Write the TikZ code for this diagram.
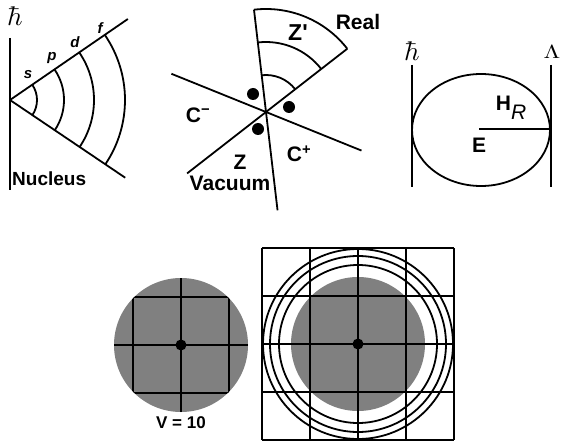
\documentclass[tikz,border=0pt]{standalone}
\usepackage{fontspec}
\setsansfont{Liberation Sans}
\usetikzlibrary{positioning,calc}
\definecolor{dgLine}{HTML}{000000}
\definecolor{dgGreyFill}{HTML}{808080}
\tikzset{
  ln/.style={dgLine, line width=1.8pt},
  lbl/.style={font=\sffamily\bfseries\fontsize{21}{21}\selectfont, inner sep=0pt},
  orb/.style={font=\sffamily\bfseries\itshape\fontsize{15}{15}\selectfont, inner sep=0pt},
  sym/.style={inner sep=0pt},
}
\newcommand{\bigsym}[3]{\scalebox{#1}[#2]{$#3$}}

\begin{document}
\begin{tikzpicture}[x=1pt, y=1pt]
\useasboundingbox (0,0) rectangle (561,442);

% --- SHELLS (top left) ---
\coordinate (apex) at (10,342);
\draw[ln] (10,404) -- (10,252);
\draw[ln] (apex) -- ++(34.5:143) coordinate (rayU);
\draw[ln] (apex) -- ++(-34:139) coordinate (rayL);
\foreach \r in {27,54,84,115} {
  \draw[ln] ($(apex)+(-34:\r)$) arc[start angle=-34, end angle=34.5, radius=\r];
}
\node[sym] (hbarL) at (15,426) {\bigsym{2.7}{2.7}{\hbar}};
\node[orb] (sLbl) at (28,367) {s};
\node[orb] (pLbl) at (52,384) {p};
\node[orb] (dLbl) at (75,400) {d};
\node[orb] (fLbl) at (100,414) {f};
\node[lbl, anchor=west, font=\sffamily\bfseries\fontsize{19}{19}\selectfont]
  (nucleus) at (12,263) {Nucleus};

% --- CROSSING LINES (top middle) ---
\coordinate (cross) at (266,330);
\draw[ln] ($(cross)+(-83.3:99)$) -- ($(cross)+(96.7:103)$);
\draw[ln] ($(cross)+(217.9:100)$) -- ($(cross)+(37.9:103)$);
\draw[ln] ($(cross)+(158:102)$) -- ($(cross)+(-22:103)$);
\foreach \r in {37,70,103} {
  \draw[ln] ($(cross)+(37.9:\r)$) arc[start angle=37.9, end angle=96.7, radius=\r];
}
\foreach \p in {(253,348), (289,335), (258,313)} {
  \fill[dgLine] \p circle (6);
}
\node[lbl, font=\sffamily\bfseries\fontsize{23}{23}\selectfont] (zPrime) at (298,409) {Z\textquotesingle};
\node[lbl] (real) at (358,420) {Real};
\node[lbl] (cMinus) at (198,327) {C\textsuperscript{\char"2212}};
\node[lbl] (cPlus) at (299,288) {C\textsuperscript{+}};
\node[lbl] (zLbl) at (240,280) {Z};
\node[lbl] (vacuum) at (230,259) {Vacuum};

% --- ELLIPSE BETWEEN WALLS (top right) ---
\coordinate (eCtr) at (479,313);
\draw[ln] (481,312) ellipse [x radius=69, y radius=56];
\draw[ln] (412,377) -- (412,255);
\draw[ln] (551,377) -- (551,255);
\draw[ln] (eCtr) -- (550,313);
\node[sym] (hbarR) at (412,391) {\bigsym{2.7}{2.7}{\hbar}};
\node[sym] (lambda) at (552,390) {\bigsym{2.4}{1.9}{\Lambda}};
\node[lbl] (hR) at (511,334) {H\raisebox{-9pt}{\mdseries\itshape R}};
\node[lbl] (eLbl) at (479,297) {E};

% --- DISC (bottom left) ---
\def\cellW{48}
\def\discR{67}
\coordinate (cL) at (181,97);
\fill[dgGreyFill] (cL) circle (\discR);
\begin{scope}
  \clip (cL) circle (\discR);
  \foreach \d in {-\cellW, 0, \cellW} {
    \draw[ln] ($(cL)+(\d,-70)$) -- ++(0,140);
    \draw[ln] ($(cL)+(-70,\d)$) -- ++(140,0);
  }
\end{scope}
\fill[dgLine] (cL) circle (5.5);
\node[lbl, font=\sffamily\bfseries\fontsize{17}{17}\selectfont] (vLbl) at (181,19) {V = 10};

% --- DISC IN GRID WITH RINGS (bottom right) ---
\coordinate (cR) at (358,98);
\fill[white] ($(cR)+(-96,-96)$) rectangle ($(cR)+(96,96)$);
\fill[dgGreyFill] (cR) circle (\discR);
\foreach \d in {-96, -48, 0, 48, 96} {
  \draw[ln] ($(cR)+(\d,-96)$) -- ++(0,192);
  \draw[ln] ($(cR)+(-96,\d)$) -- ++(192,0);
}
\foreach \r in {79, 88, 95} {
  \draw[ln] (cR) circle (\r);
}
\fill[dgLine] (cR) circle (5.5);

\end{tikzpicture}
\end{document}
